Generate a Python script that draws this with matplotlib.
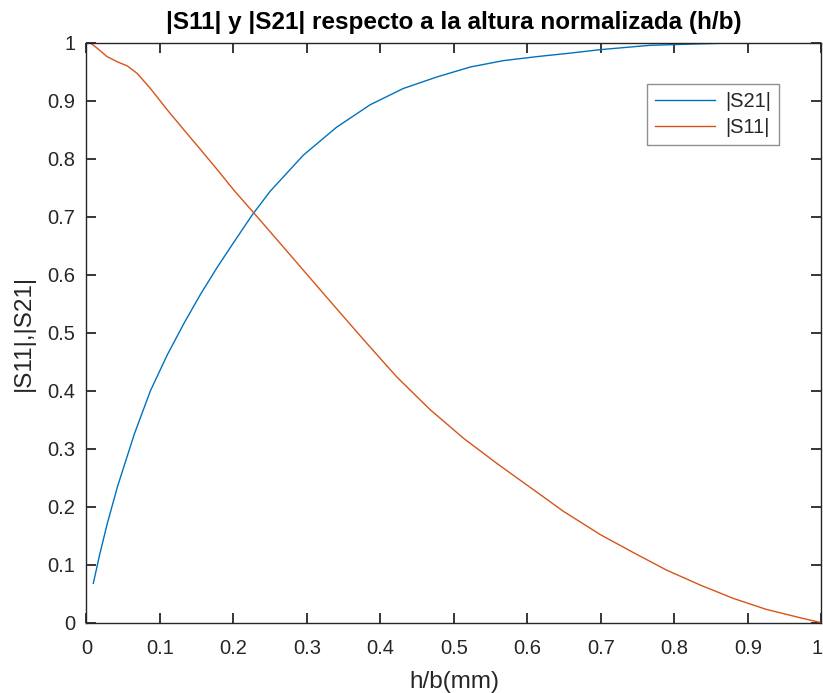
import matplotlib
matplotlib.use("Agg")
import matplotlib.pyplot as plt
from matplotlib.transforms import ScaledTranslation

# |S21| versus normalised height
hb_s21 = [0.0093, 0.018, 0.0283, 0.042, 0.065, 0.087, 0.110, 0.133, 0.155, 0.178,
          0.201, 0.226, 0.250, 0.295, 0.340, 0.386, 0.431, 0.477, 0.522, 0.567,
          0.613, 0.658, 0.699, 0.767, 0.835, 0.891, 0.95, 1.0]
s21 = [0.068, 0.118, 0.171, 0.234, 0.325, 0.400, 0.462, 0.517, 0.566, 0.613,
       0.657, 0.704, 0.744, 0.806, 0.854, 0.893, 0.921, 0.941, 0.958, 0.969,
       0.976, 0.982, 0.988, 0.9955, 0.998, 1.0, 1.0, 1.0]

# |S11| versus normalised height
hb_s11 = [0.005, 0.015, 0.028, 0.042, 0.0555, 0.069, 0.087, 0.110, 0.133, 0.155,
          0.178, 0.201, 0.226, 0.269, 0.316, 0.331, 0.377, 0.422, 0.467, 0.513,
          0.558, 0.603, 0.649, 0.699, 0.744, 0.789, 0.835, 0.880, 0.925, 0.971,
          1.0]
s11 = [1.0, 0.990, 0.976, 0.967, 0.960, 0.947, 0.921, 0.884, 0.849, 0.816,
       0.781, 0.745, 0.709, 0.646, 0.577, 0.555, 0.488, 0.424, 0.368, 0.318,
       0.275, 0.234, 0.192, 0.152, 0.121, 0.0909, 0.065, 0.042, 0.023, 0.0086,
       0.0]

ticks = [0, 0.1, 0.2, 0.3, 0.4, 0.5, 0.6, 0.7, 0.8, 0.9, 1]
tick_labels = ["0", "0.1", "0.2", "0.3", "0.4", "0.5", "0.6", "0.7", "0.8", "0.9", "1"]

plt.rcParams["font.family"] = ["Liberation Sans", "DejaVu Sans"]
dark = (0.15, 0.15, 0.15)

fig = plt.figure(figsize=(8.23, 6.93), dpi=100)
ax = fig.add_axes([0.1051, 0.1014, 0.8930, 0.8370])

ax.plot(hb_s21, s21, color="#0072BD", lw=1.0, label="|S21|")
ax.plot(hb_s11, s11, color="#D95319", lw=1.0, label="|S11|")

ax.set_xlim(0, 1)
ax.set_ylim(0, 1)
ax.set_xticks(ticks)
ax.set_xticklabels(tick_labels)
ax.set_yticks(ticks)
ax.set_yticklabels(tick_labels)
ax.tick_params(direction="in", length=7, width=1.3, colors=dark, labelsize=14.5,
               top=True, right=True)
ax.tick_params(axis="x", pad=12)
ax.tick_params(axis="y", pad=8)
for s in ax.spines.values():
    s.set_color(dark)
    s.set_linewidth(1.0)

# keep the last x tick label inside the figure edge
last = ax.get_xticklabels()[-1]
last.set_transform(last.get_transform() + ScaledTranslation(-4 / 100, 0, fig.dpi_scale_trans))

ax.set_title("|S11| y |S21| respecto a la altura normalizada (h/b)",
             fontsize=17.5, fontweight="bold", color="black", pad=10)
ax.set_xlabel("h/b(mm)", fontsize=17.5, color=dark, labelpad=9)
ax.set_ylabel("|S11|,|S21|", fontsize=17.5, color=dark, labelpad=9)

leg = ax.legend(loc="upper right", bbox_to_anchor=(0.9426, 0.9288), fontsize=14.5,
                frameon=True, fancybox=False, handlelength=3.0, handletextpad=0.5,
                borderpad=0.4, labelspacing=0.35, borderaxespad=0)
leg.get_frame().set_edgecolor((0.45, 0.45, 0.45))
leg.get_frame().set_linewidth(1.0)
for t in leg.get_texts():
    t.set_color(dark)

fig.savefig("out.png", dpi=100)
